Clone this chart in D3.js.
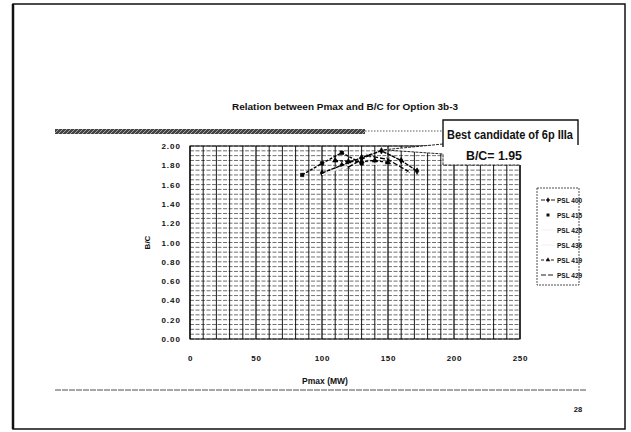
<!DOCTYPE html>
<html>
<head>
<meta charset="utf-8">
<script src="https://cdn.jsdelivr.net/npm/d3@7"></script>
<style>
  body { margin: 0; background: #fff; }
  svg text { font-family: "Liberation Sans", Arial, sans-serif; font-weight: bold; fill: #111; }
</style>
</head>
<body>
<svg id="chart" width="631" height="432"></svg>
<script>
// ---- data ----
var pmaxTicks = [0, 50, 100, 150, 200, 250];
var bcTicks = [0, 0.2, 0.4, 0.6, 0.8, 1.0, 1.2, 1.4, 1.6, 1.8, 2.0];
var seriesNames = ['PSL 400', 'PSL 415', 'PSL 425', 'PSL 436', 'PSL 419', 'PSL 429'];

var pmax400 = [100, 115, 130, 145, 160, 172];
var bc400   = [1.72, 1.80, 1.88, 1.95, 1.85, 1.74];
var pmax415 = [85, 100, 115, 130];
var bc415   = [1.70, 1.82, 1.93, 1.82];
var pmax425 = [100, 115, 130, 145];
var bc425   = [1.70, 1.78, 1.84, 1.80];
var pmax436 = [105, 120, 135, 150];
var bc436   = [1.73, 1.80, 1.86, 1.82];
var pmax419 = [110, 120, 130, 140, 150];
var bc419   = [1.85, 1.84, 1.84, 1.85, 1.83];
var pmax429 = [120, 135, 150, 165];
var bc429   = [1.78, 1.90, 1.86, 1.74];

var bestLabel = 'Best candidate of 6p IIIa';
var bestBC = 1.95, bestPmax = 145;

(function(){
    var svg = d3.select('#chart');

    var x = d3.scaleLinear().domain([0, 250]).range([190, 520]);
    var y = d3.scaleLinear().domain([0, 2]).range([339, 146]);

    // page frame
    svg.append('rect').attr('x', 13).attr('y', 4).attr('width', 612).attr('height', 425)
        .attr('fill', 'none').attr('stroke', '#111').attr('stroke-width', 1.5);
    svg.append('line').attr('x1', 13).attr('x2', 13).attr('y1', 4).attr('y2', 429)
        .attr('stroke', '#111').attr('stroke-width', 2.5);

    svg.append('text').attr('x', 345).attr('y', 110).attr('text-anchor', 'middle')
        .attr('textLength', 226).attr('lengthAdjust', 'spacingAndGlyphs')
        .style('font-size', '9px').text('Relation between Pmax and B/C for Option 3b-3');

    // hatched banner bar
    var defs = svg.append('defs');
    var pat = defs.append('pattern').attr('id', 'hatch').attr('width', 4).attr('height', 4)
        .attr('patternUnits', 'userSpaceOnUse');
    pat.append('rect').attr('width', 4).attr('height', 4).attr('fill', '#444');
    pat.append('path').attr('d', 'M0,4 L4,0').attr('stroke', '#bbb').attr('stroke-width', 0.8);
    svg.append('rect').attr('x', 55).attr('y', 129).attr('width', 310).attr('height', 5)
        .attr('fill', 'url(#hatch)');

    // grid
    var plot = svg.append('g');
    var hLines = d3.range(0, 2.0001, 0.05);
    plot.selectAll('.h').data(hLines).enter().append('line')
        .attr('x1', x(0)).attr('x2', x(250))
        .attr('y1', function(d){ return y(d) }).attr('y2', function(d){ return y(d) })
        .attr('stroke', '#222').attr('stroke-width', 0.65).attr('stroke-dasharray', '4,1.5');
    plot.selectAll('.v').data(d3.range(0, 251, 10)).enter().append('line')
        .attr('x1', function(d){ return x(d) }).attr('x2', function(d){ return x(d) })
        .attr('y1', y(0)).attr('y2', y(2))
        .attr('stroke', '#000').attr('stroke-width', function(d){ return d % 50 === 0 ? 1.2 : 0.9 });
    plot.append('rect').attr('x', x(0)).attr('y', y(2)).attr('width', x(250) - x(0))
        .attr('height', y(0) - y(2)).attr('fill', 'none').attr('stroke', '#000').attr('stroke-width', 1);

    // axes
    var yAxis = d3.axisLeft(y).tickValues(bcTicks).tickSize(0).tickPadding(9)
        .tickFormat(d3.format('.2f'));
    var gy = svg.append('g').attr('transform', 'translate(' + x(0) + ',0)').call(yAxis);
    gy.select('.domain').remove();
    gy.selectAll('text').style('font-size', '8px').style('letter-spacing', '1px')
        .style('font-family', '"Liberation Sans", Arial, sans-serif');

    var xAxis = d3.axisBottom(x).tickValues(pmaxTicks).tickSize(0).tickPadding(16);
    var gx = svg.append('g').attr('transform', 'translate(0,' + y(0) + ')').call(xAxis);
    gx.select('.domain').remove();
    gx.selectAll('text').style('font-size', '8px').style('letter-spacing', '0.8px')
        .style('font-family', '"Liberation Sans", Arial, sans-serif');

    svg.append('text').attr('transform', 'translate(150,' + ((y(0) + y(2)) / 2) + ') rotate(-90)')
        .attr('text-anchor', 'middle').style('font-size', '8px').text('B/C');
    svg.append('text').attr('x', 325).attr('y', 384).attr('text-anchor', 'middle')
        .style('font-size', '8.5px').text('Pmax (MW)');

    // series
    var series = [
        { name: seriesNames[0], px: pmax400, bc: bc400, color: '#000', dash: '4,1', marker: 'diamond' },
        { name: seriesNames[1], px: pmax415, bc: bc415, color: '#000', dash: '3,1.5', marker: 'square' },
        { name: seriesNames[2], px: pmax425, bc: bc425, color: '#eee', dash: null,  marker: null },
        { name: seriesNames[3], px: pmax436, bc: bc436, color: '#eee', dash: null,  marker: null },
        { name: seriesNames[4], px: pmax419, bc: bc419, color: '#000', dash: '3,2', marker: 'triangle' },
        { name: seriesNames[5], px: pmax429, bc: bc429, color: '#000', dash: '5,2', marker: 'cross' }
    ];
    var symbolType = { diamond: d3.symbolDiamond, square: d3.symbolSquare, triangle: d3.symbolTriangle, cross: d3.symbolX };
    var line = d3.line().x(function(d){ return x(d[0]) }).y(function(d){ return y(d[1]) });

    series.forEach(function(s){
        var pts = s.px.map(function(p, i){ return [p, s.bc[i]] });
        plot.append('path').datum(pts).attr('d', line)
            .attr('fill', 'none').attr('stroke', s.color).attr('stroke-width', 1.4)
            .attr('stroke-dasharray', s.dash);
        if (s.marker) {
            plot.selectAll(null).data(pts).enter().append('path')
                .attr('transform', function(d){ return 'translate(' + x(d[0]) + ',' + y(d[1]) + ')' })
                .attr('d', d3.symbol().type(symbolType[s.marker]).size(12))
                .attr('fill', '#000').attr('stroke', '#000').attr('stroke-width', 0.6);
        }
    });

    // callout box covering the top-right of the grid
    var bx0 = 443, bx1 = 578, by0 = 120, by1 = 165, tip = [x(bestPmax) + 2, y(bestBC) - 1];
    svg.append('path')
        .attr('d', 'M' + bx0 + ',' + by0 + ' L' + bx1 + ',' + by0 + ' L' + bx1 + ',' + by1 +
            ' L' + bx0 + ',' + by1 + ' L' + bx0 + ',' + (by0 + 34) +
            ' L' + tip[0] + ',' + tip[1] + ' L' + bx0 + ',' + (by0 + 24) + ' Z')
        .attr('fill', '#fff').attr('stroke', 'none');
    svg.append('path')
        .attr('d', 'M' + bx0 + ',' + (by0 + 27) + ' L' + bx0 + ',' + by0 + ' L' + bx1 + ',' + by0 +
            ' L' + bx1 + ',' + (by0 + 25))
        .attr('fill', 'none').attr('stroke', '#111').attr('stroke-width', 1.4);
    svg.append('path')
        .attr('d', 'M' + bx0 + ',' + (by0 + 24) + ' L' + tip[0] + ',' + tip[1] +
            ' L' + bx0 + ',' + (by0 + 34) + ' L' + bx0 + ',' + by1 + ' L' + x(250) + ',' + by1)
        .attr('fill', 'none').attr('stroke', '#111').attr('stroke-width', 0.9).attr('stroke-dasharray', '3,1');
    svg.append('line').attr('x1', 365).attr('x2', bx0).attr('y1', 131).attr('y2', 131)
        .attr('stroke', '#333').attr('stroke-width', 0.8).attr('stroke-dasharray', '1.5,1.5');
    svg.append('text').attr('x', 510).attr('y', 139).attr('text-anchor', 'middle')
        .attr('textLength', 126).attr('lengthAdjust', 'spacingAndGlyphs')
        .style('font-size', '13px').style('font-family', '"Liberation Sans Narrow", "Liberation Sans", Arial, sans-serif')
        .text(bestLabel);
    svg.append('text').attr('x', 494).attr('y', 160).attr('text-anchor', 'middle')
        .attr('textLength', 56).attr('lengthAdjust', 'spacingAndGlyphs')
        .style('font-size', '13px').style('font-family', '"Liberation Sans Narrow", "Liberation Sans", Arial, sans-serif')
        .text('B/C= ' + bestBC.toFixed(2));

    // legend
    var lg = svg.append('g').attr('transform', 'translate(537,188)');
    lg.append('rect').attr('width', 42).attr('height', 97).attr('fill', '#fff')
        .attr('stroke', '#222').attr('stroke-width', 0.8).attr('stroke-dasharray', '2,1');
    var item = lg.selectAll('.item').data(series).enter().append('g')
        .attr('transform', function(d, i){ return 'translate(0,' + (12 + i * 15) + ')' });
    item.append('line').attr('x1', 4).attr('x2', 18).attr('y1', 0).attr('y2', 0)
        .attr('stroke', function(d){ return d.marker === 'square' ? 'none' : d.color })
        .attr('stroke-width', 0.9).attr('stroke-dasharray', function(d){ return d.dash });
    item.filter(function(d){ return d.marker }).append('path')
        .attr('transform', 'translate(11,0)')
        .attr('d', function(d){ return d3.symbol().type(symbolType[d.marker]).size(9)() })
        .attr('fill', '#111');
    item.append('text').attr('x', 20).attr('y', 2.5).style('font-size', '6.5px')
        .text(function(d){ return d.name });

    // footer
    svg.append('line').attr('x1', 55).attr('x2', 587).attr('y1', 390).attr('y2', 390)
        .attr('stroke', '#222').attr('stroke-width', 0.8).attr('stroke-dasharray', '6,1');
    svg.append('text').attr('x', 578).attr('y', 412).attr('text-anchor', 'middle')
        .style('font-size', '7.5px').text('28');
})();
</script>
</body>
</html>
